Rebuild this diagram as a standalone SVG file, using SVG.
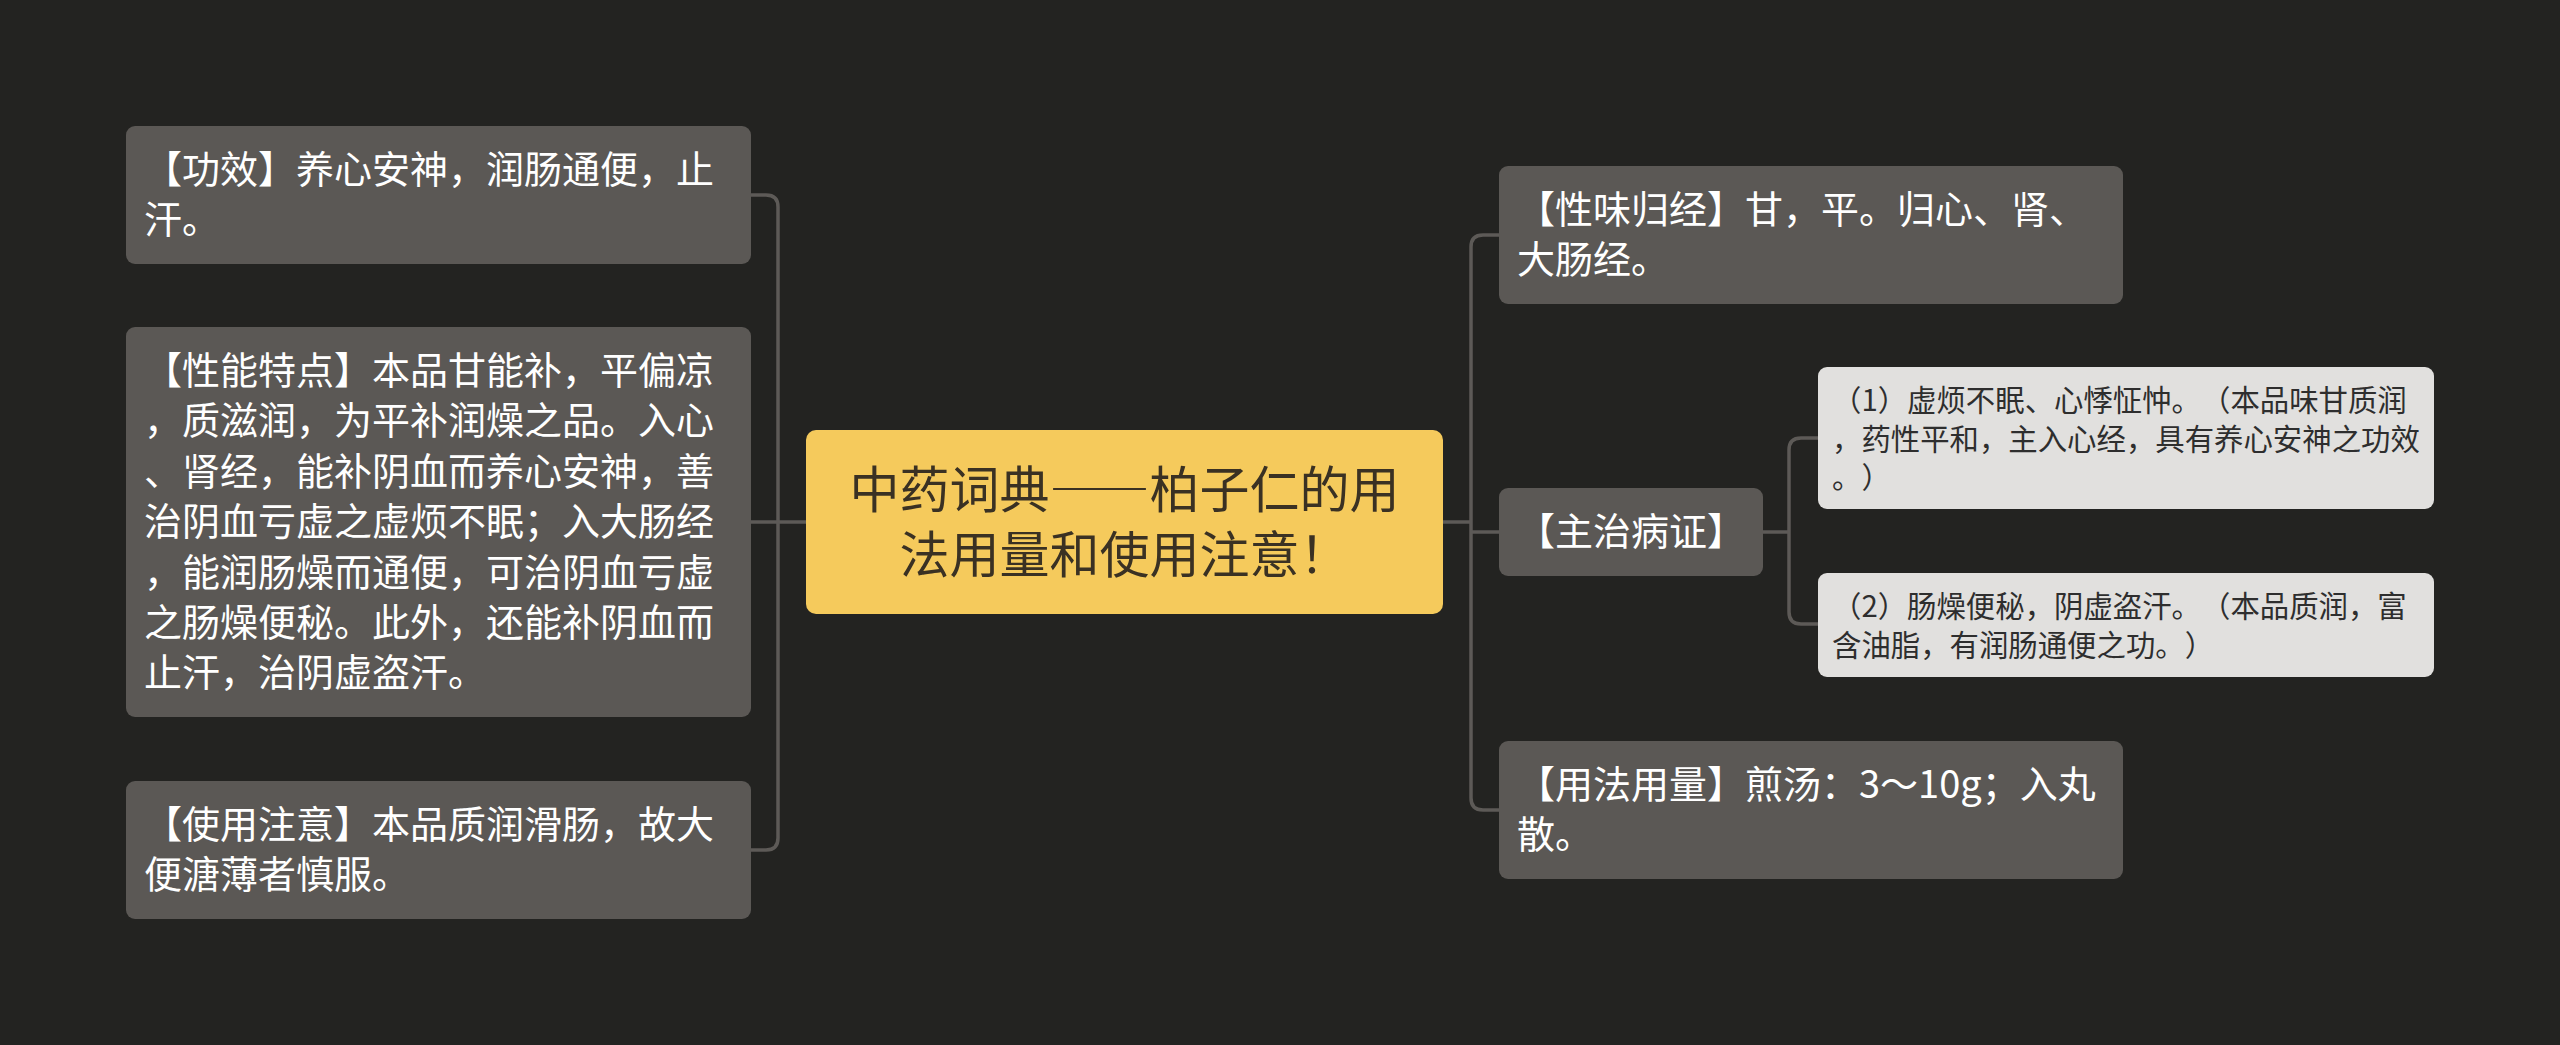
<svg xmlns="http://www.w3.org/2000/svg" width="2560" height="1045" viewBox="0 0 2560 1045">
<style>
.bg{fill:#232321}
text{text-spacing-trim:space-all}
.node rect{fill:#5b5855}
.node text{fill:#ffffff;font-family:"Noto Sans CJK SC","Noto Sans",sans-serif;font-size:38px}
.center rect{fill:#f5ca5c}
.center text{fill:#3a3123;font-family:"Noto Sans CJK SC","Noto Sans",sans-serif;font-size:50px;text-anchor:middle}
.fw{font-feature-settings:"fwid"}
.sub rect{fill:#e1e0de}
.sub text{fill:#2e2e2e;font-family:"Noto Sans CJK SC","Noto Sans",sans-serif;font-size:29.4px}
.link{fill:none;stroke:#5d5a57;stroke-width:3.5}
</style>
<rect class="bg" x="0" y="0" width="2560" height="1045"/>
<g id="connectors">
<path class="link" d="M751,195 H766 Q778,195 778,207 V838 Q778,850 766,850 H751"/>
<path class="link" d="M751,522 H806"/>
<path class="link" d="M1443,522 H1471"/>
<path class="link" d="M1499,235 H1483 Q1471,235 1471,247 V798 Q1471,810 1483,810 H1499"/>
<path class="link" d="M1471,532 H1499"/>
<path class="link" d="M1763,532 H1789"/>
<path class="link" d="M1818,438 H1801 Q1789,438 1789,450 V612 Q1789,624 1801,624 H1818"/>
</g>
<g id="center" class="center">
<rect x="806" y="430" width="637" height="184" rx="10"/>
<text x="1124.5" y="508">中药词典<tspan class="fw">——</tspan>柏子仁的用</text>
<text x="1124.5" y="573">法用量和使用注意！</text>
</g>
<g id="gongxiao" class="node">
<rect x="126" y="126" width="625" height="138" rx="9"/>
<text x="144" y="183">【功效】养心安神，润肠通便，止</text>
<text x="144" y="233.4">汗。</text>
</g>
<g id="xingneng" class="node">
<rect x="126" y="327" width="625" height="390" rx="9"/>
<text x="144" y="384">【性能特点】本品甘能补，平偏凉</text>
<text x="144" y="434.4">，质滋润，为平补润燥之品。入心</text>
<text x="144" y="484.8">、肾经，能补阴血而养心安神，善</text>
<text x="144" y="535.2">治阴血亏虚之虚烦不眠；入大肠经</text>
<text x="144" y="585.6">，能润肠燥而通便，可治阴血亏虚</text>
<text x="144" y="636">之肠燥便秘。此外，还能补阴血而</text>
<text x="144" y="686.4">止汗，治阴虚盗汗。</text>
</g>
<g id="zhuyi" class="node">
<rect x="126" y="781" width="625" height="138" rx="9"/>
<text x="144" y="838">【使用注意】本品质润滑肠，故大</text>
<text x="144" y="888.4">便溏薄者慎服。</text>
</g>
<g id="xingwei" class="node">
<rect x="1499" y="166" width="624" height="138" rx="9"/>
<text x="1517" y="223">【性味归经】甘，平。归心、肾、</text>
<text x="1517" y="273.4">大肠经。</text>
</g>
<g id="zhuzhi" class="node">
<rect x="1499" y="488" width="264" height="88" rx="9"/>
<text x="1517" y="545">【主治病证】</text>
</g>
<g id="yongfa" class="node">
<rect x="1499" y="741" width="624" height="138" rx="9"/>
<text x="1517" y="798">【用法用量】煎汤：3～10g；入丸</text>
<text x="1517" y="848.4">散。</text>
</g>
<g id="sub1" class="sub">
<rect x="1818" y="367" width="616" height="142" rx="9"/>
<text x="1832" y="411">（1）虚烦不眠、心悸怔忡。（本品味甘质润</text>
<text x="1832" y="449.6">，药性平和，主入心经，具有养心安神之功效</text>
<text x="1832" y="488.2">。）</text>
</g>
<g id="sub2" class="sub">
<rect x="1818" y="573" width="616" height="104" rx="9"/>
<text x="1832" y="617">（2）肠燥便秘，阴虚盗汗。（本品质润，富</text>
<text x="1832" y="655.6">含油脂，有润肠通便之功。）</text>
</g>
</svg>
